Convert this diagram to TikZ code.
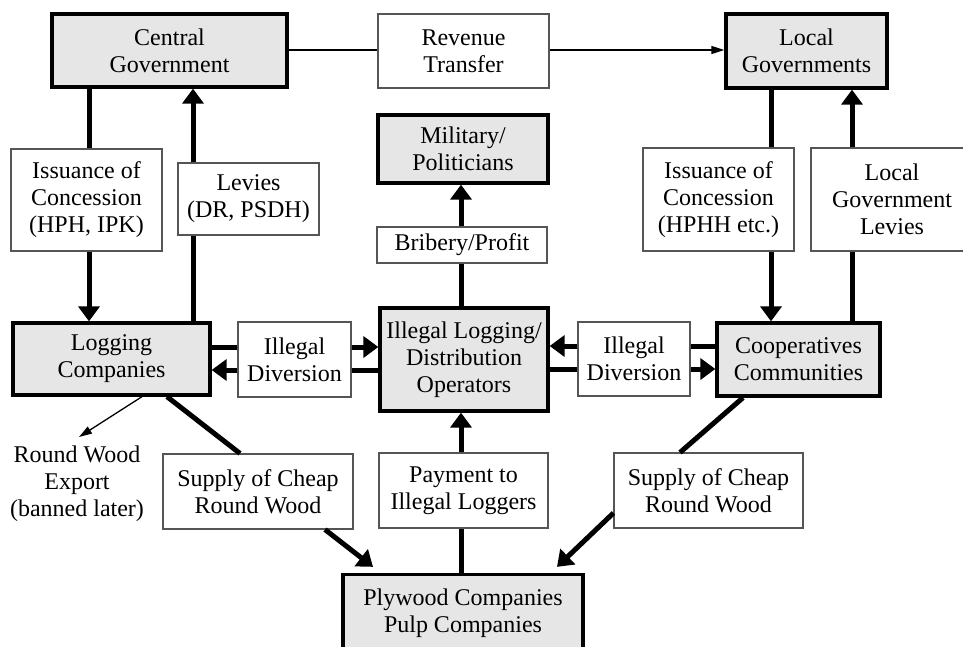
\documentclass[tikz,border=0pt]{standalone}
\usepackage{fontspec}
\setmainfont{Liberation Serif}
\usetikzlibrary{arrows.meta,calc}
\definecolor{boxgray}{HTML}{E6E6E6}
\definecolor{thinedge}{HTML}{555555}
\begin{document}
\begin{tikzpicture}[x=1pt,y=-1pt,
  every node/.style={font=\fontsize{24}{27}\selectfont, align=center, inner sep=0pt},
  wbox/.style={draw=thinedge, line width=1.1pt, fill=white},
  gbox/.style={draw=black, line width=3.3pt, fill=boxgray},
  flow/.style={line width=5pt},
  flowarr/.style={line width=5pt, -{Triangle[width=21pt,length=15pt]}},
  thinarr/.style={line width=1.3pt, -{Triangle[width=8pt,length=13pt]}},
  thinline/.style={line width=1.3pt}]
\clip (0,0) rectangle (963,646);
% nodes
\node[gbox, minimum width=235, minimum height=73] (cg) at (169.5,50.5) {Central\\Government};
\node[wbox, minimum width=171, minimum height=74] (rt) at (463.5,51) {Revenue\\Transfer};
\node[gbox, minimum width=161, minimum height=74] (lg) at (806.5,51) {Local\\Governments};
\node[gbox, minimum width=170, minimum height=68] (mil) at (463,149) {Military/\\Politicians};
\node[wbox, minimum width=170, minimum height=36] (brib) at (462,245) {Bribery/Profit};
\node[gbox, minimum width=168, minimum height=103] (il) at (464,359.5) {Illegal Logging/\\Distribution\\Operators};
\node[gbox, minimum width=197, minimum height=72] (lc) at (111.5,359) {Logging\\Companies};
\node[wbox, minimum width=113, minimum height=75] (idl) at (294.5,359.5) {Illegal\\Diversion};
\node[gbox, minimum width=163, minimum height=73] (coop) at (798.5,359.5) {Cooperatives\\Communities};
\node[wbox, minimum width=112, minimum height=74] (idr) at (634,359) {Illegal\\Diversion};
\node[wbox, minimum width=151, minimum height=102] (icl) at (86.5,200) {Issuance of\\Concession\\(HPH, IPK)};
\node[wbox, minimum width=141, minimum height=72] (lev) at (248.5,199) {Levies\\(DR, PSDH)};
\node[wbox, minimum width=151, minimum height=103] (icr) at (718.5,199.5) {Issuance of\\Concession\\(HPHH etc.)};
\node[wbox, minimum width=162, minimum height=103] (lgl) at (892,199.5) {Local\\Government\\Levies};
\node (rwe) at (77,484) {Round Wood\\Export\\(banned later)};
\node[wbox, minimum width=190, minimum height=75] (scl) at (258,491.5) {Supply of Cheap\\Round Wood};
\node[wbox, minimum width=169, minimum height=75] (pay) at (463.5,490.5) {Payment to\\Illegal Loggers};
\node[wbox, minimum width=189, minimum height=75] (scr) at (708.5,490.5) {Supply of Cheap\\Round Wood};
\node[gbox, minimum width=240, minimum height=78] (ply) at (463,613.5) {Plywood Companies\\Pulp Companies};
% revenue transfer
\draw[thinline] (cg.east |- 0,50) -- (rt.west |- 0,50);
\draw[thinarr] (rt.east |- 0,50) -- (lg.west |- 0,50);
% central government <-> logging companies
\draw[flow] (cg.south -| 89,0) -- (icl.north -| 89,0);
\draw[flowarr] (icl.south -| 89,0) -- (lc.north -| 89,0);
\draw[flow] (lc.north -| 193,0) -- (lev.south -| 193,0);
\draw[flowarr] (lev.north -| 193,0) -- (cg.south -| 193,0);
% local government <-> cooperatives
\draw[flow] (lg.south -| 771,0) -- (icr.north -| 771,0);
\draw[flowarr] (icr.south -| 771,0) -- (coop.north -| 771,0);
\draw[flow] (coop.north -| 852,0) -- (lgl.south -| 852,0);
\draw[flowarr] (lgl.north -| 852,0) -- (lg.south -| 852,0);
% bribery
\draw[flow] (il.north -| 461,0) -- (brib.south -| 461,0);
\draw[flowarr] (brib.north -| 461,0) -- (mil.south -| 461,0);
% illegal diversion left
\draw[flow] (lc.east |- 0,347) -- (idl.west |- 0,347);
\draw[flowarr] (idl.east |- 0,347) -- (il.west |- 0,347);
\draw[flow] (il.west |- 0,370) -- (idl.east |- 0,370);
\draw[flowarr] (idl.west |- 0,370) -- (lc.east |- 0,370);
% illegal diversion right
\draw[flow] (coop.west |- 0,346) -- (idr.east |- 0,346);
\draw[flowarr] (idr.west |- 0,346) -- (il.east |- 0,346);
\draw[flow] (il.east |- 0,369) -- (idr.west |- 0,369);
\draw[flowarr] (idr.east |- 0,369) -- (coop.west |- 0,369);
% payment
\draw[flow] (ply.north -| 461,0) -- (pay.south -| 461,0);
\draw[flowarr] (pay.north -| 461,0) -- (il.south -| 461,0);
% supply of cheap round wood
\coordinate (plyl) at ($(ply.north -| 373,0)+(0,-6)$);
\coordinate (plyr) at ($(ply.north -| 557,0)+(0,-6)$);
\draw[flow] (lc.south -| 167,0) -- (scl.north -| 240,0);
\draw[flowarr] (scl.south -| 325,0) -- (plyl);
\draw[flow] (coop.south -| 743,0) -- (scr.north -| 680,0);
\draw[flowarr] (scr.west |- 0,513) -- (plyr);
% round wood export
\coordinate (rwetip) at (79,437);
\draw[thinarr] (lc.south -| 142,0) -- (rwetip);
\end{tikzpicture}
\end{document}
